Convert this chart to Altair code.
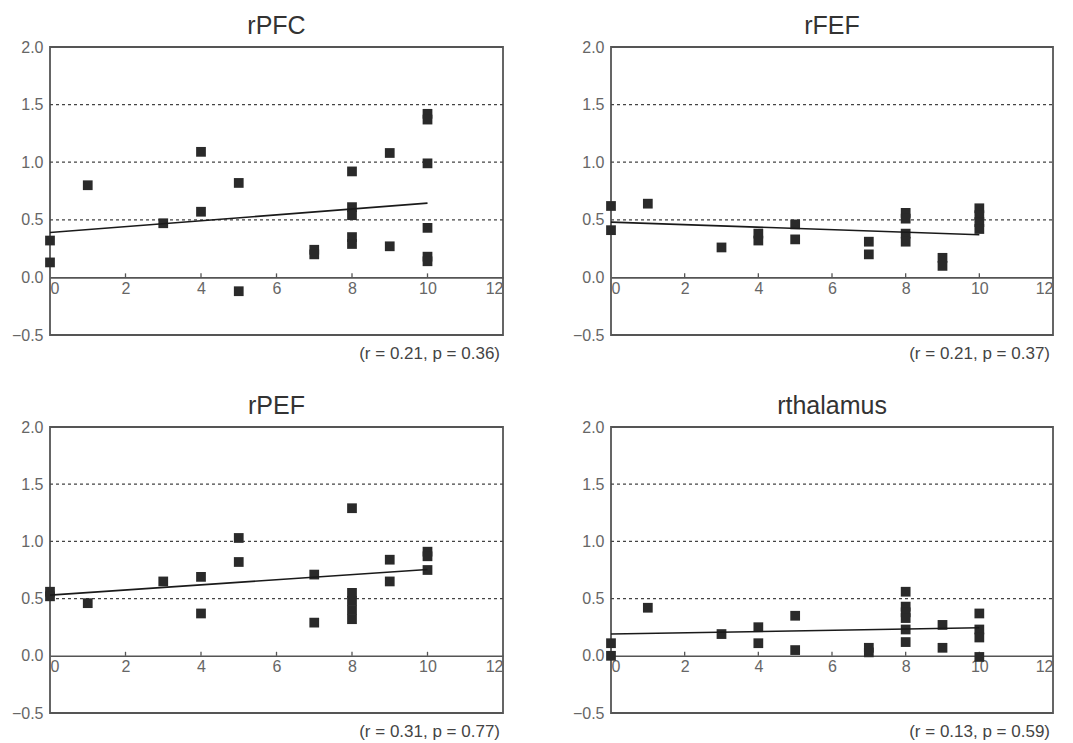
import altair as alt
import pandas as pd

# ---------------- data ----------------
titles = ["rPFC", "rFEF", "rPEF", "rthalamus"]
stats = ["(r = 0.21, p = 0.36)", "(r = 0.21, p = 0.37)",
         "(r = 0.31, p = 0.77)", "(r = 0.13, p = 0.59)"]

pfc_x = [0, 0, 1, 3, 4, 4, 5, 5, 7, 7, 8, 8, 8, 8, 8, 9, 9, 10, 10, 10, 10, 10, 10]
pfc_y = [0.32, 0.13, 0.80, 0.47, 1.09, 0.57, 0.82, -0.12, 0.24, 0.20, 0.92, 0.61, 0.54, 0.35, 0.29,
         1.08, 0.27, 1.42, 1.37, 0.99, 0.43, 0.18, 0.14]
fef_x = [0, 0, 1, 3, 4, 4, 5, 5, 7, 7, 8, 8, 8, 8, 9, 9, 10, 10, 10, 10]
fef_y = [0.62, 0.41, 0.64, 0.26, 0.38, 0.32, 0.46, 0.33, 0.31, 0.20, 0.56, 0.51, 0.38, 0.31,
         0.17, 0.10, 0.60, 0.54, 0.48, 0.42]
pef_x = [0, 0, 1, 3, 4, 4, 5, 5, 7, 7, 8, 8, 8, 8, 8, 9, 9, 10, 10, 10]
pef_y = [0.56, 0.52, 0.46, 0.65, 0.69, 0.37, 1.03, 0.82, 0.71, 0.29, 1.29, 0.55, 0.48, 0.40, 0.32,
         0.84, 0.65, 0.91, 0.87, 0.75]
tha_x = [0, 0, 1, 3, 4, 4, 5, 5, 7, 7, 8, 8, 8, 8, 8, 8, 9, 9, 10, 10, 10, 10]
tha_y = [0.11, 0.00, 0.42, 0.19, 0.25, 0.11, 0.35, 0.05, 0.07, 0.03, 0.56, 0.43, 0.38, 0.33, 0.23,
         0.12, 0.27, 0.07, 0.37, 0.23, 0.16, -0.01]

xs = [pfc_x, fef_x, pef_x, tha_x]
ys = [pfc_y, fef_y, pef_y, tha_y]

# regression line endpoints (x = 0 and x = 10)
fit_x = [0, 10]
fit_y = [[0.39, 0.645], [0.48, 0.37], [0.53, 0.755], [0.19, 0.245]]

grid_levels = [0.5, 1.0, 1.5]
x_ticks = [0, 2, 4, 6, 8, 10, 12]
y_ticks = [-0.5, 0.0, 0.5, 1.0, 1.5, 2.0]
inner_ticks = [2, 4, 6, 8, 10]

FONT = "Liberation Sans"
widths = [453, 442, 453, 442]
heights = [288, 288, 286, 286]


def panel(i):
    W, H = widths[i], heights[i]
    xscale = alt.Scale(domain=[0, 12], nice=False, zero=False)
    yscale = alt.Scale(domain=[-0.5, 2.0], nice=False, zero=False)
    zero_offset = -H * 0.5 / 2.5

    pts = pd.DataFrame({"x": xs[i], "y": ys[i]})
    fit = pd.DataFrame({"x": fit_x, "y": fit_y[i]})
    grid = pd.DataFrame({"y": grid_levels, "x0": [0] * 3, "x1": [12] * 3})
    tk = pd.DataFrame({"x": inner_ticks, "y0": [0.0] * 5, "y1": [0.035] * 5})
    ann = pd.DataFrame({"t": [stats[i]]})

    xaxis = alt.Axis(values=x_ticks, format="d", grid=False, ticks=False,
                     domain=True, domainColor="#555", domainWidth=1.6,
                     offset=zero_offset, labelPadding=3, labelFontSize=16,
                     labelColor="#666", labelFont=FONT, title=None)
    yaxis = alt.Axis(values=y_ticks, format=".1f", grid=False, ticks=False,
                     domain=False, labelPadding=7, labelFontSize=16,
                     labelColor="#666", labelFont=FONT, title=None)

    g = alt.Chart(grid).mark_rule(color="#444", strokeDash=[3, 3], strokeWidth=1.3).encode(
        x=alt.X("x0:Q", scale=xscale, axis=xaxis),
        x2="x1:Q",
        y=alt.Y("y:Q", scale=yscale, axis=yaxis),
    )
    t = alt.Chart(tk).mark_rule(color="#555", strokeWidth=1.3).encode(
        x=alt.X("x:Q", scale=xscale), y=alt.Y("y0:Q", scale=yscale), y2="y1:Q")
    p = alt.Chart(pts).mark_square(size=95, color="#2a2a2a", opacity=1).encode(
        x=alt.X("x:Q", scale=xscale), y=alt.Y("y:Q", scale=yscale))
    l = alt.Chart(fit).mark_line(color="#1a1a1a", strokeWidth=1.6).encode(
        x=alt.X("x:Q", scale=xscale), y=alt.Y("y:Q", scale=yscale))
    a = alt.Chart(ann).mark_text(align="right", baseline="middle", fontSize=17,
                                 font=FONT, color="#444").encode(
        text="t:N", x=alt.value(W - 3), y=alt.value(H + 19))

    return alt.layer(g, t, p, l, a).properties(
        width=W, height=H,
        view=alt.ViewBackground(stroke="#555", strokeWidth=1.8),
        title=alt.TitleParams(titles[i], fontSize=25, font=FONT, fontWeight="normal",
                              color="#333", anchor="middle", offset=0),
    )


top = alt.hconcat(panel(0), panel(1), spacing=66)
bottom = alt.hconcat(panel(2), panel(3), spacing=66)
chart = alt.vconcat(top, bottom, spacing=30).properties(
    padding={"left": 2, "top": 5, "right": 5, "bottom": 0}
).configure_view(
    stroke="#555", strokeWidth=1.8
).configure(background="white")

chart.save("out.html", embed_options={"renderer": "svg", "actions": False})
